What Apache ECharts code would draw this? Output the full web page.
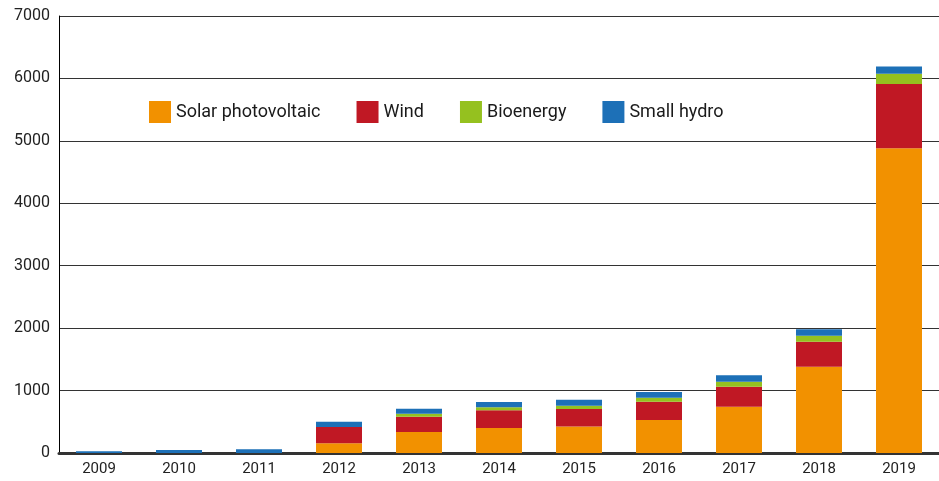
<!DOCTYPE html>
<html>
<head>
<meta charset="utf-8">
<script src="https://cdn.jsdelivr.net/npm/echarts@6/dist/echarts.min.js"></script>
<style>
  html, body { margin: 0; padding: 0; background: #fff; }
  #chart { width: 939px; height: 481px; }
</style>
</head>
<body>
<div id="chart"></div>
<script>
// chart data
const years = ['2009', '2010', '2011', '2012', '2013', '2014', '2015', '2016', '2017', '2018', '2019']
const solar = [0, 0, 0, 155, 335, 400, 425, 530, 742, 1383, 4880]
const wind = [0, 0, 0, 262, 245, 283, 280, 292, 321, 401, 1030]
const bioenergy = [0, 0, 0, 0, 50, 48, 53, 64, 80, 96, 165]
const smallHydro = [30, 50, 60, 83, 80, 86, 96, 92, 101, 101, 117]

const chart = echarts.init(document.getElementById('chart'))

const bar = (name, data, color) => ({
    name: name,
    type: 'bar',
    stack: 'total',
    data: data,
    barWidth: 46,
    itemStyle: { color: color },
    emphasis: { disabled: true }
})

const option = {
    animation: false,
    textStyle: { fontFamily: 'Roboto' },
    legend: {
        left: 144,
        top: 96,
        itemWidth: 22,
        itemHeight: 22,
        itemGap: 36,
        icon: 'rect',
        textStyle: { fontSize: 18, color: '#1a1a1a' },
        data: ['Solar photovoltaic', 'Wind', 'Bioenergy', 'Small hydro']
    },
    grid: {
        left: 59,
        right: 0,
        top: 16,
        bottom: 28
    },
    xAxis: {
        type: 'category',
        data: years,
        axisLine: { lineStyle: { color: '#333', width: 3 } },
        axisTick: { show: false },
        axisLabel: { fontSize: 15, color: '#222', margin: 9 }
    },
    yAxis: {
        type: 'value',
        min: 0,
        max: 7000,
        interval: 1000,
        axisLine: { show: true, lineStyle: { color: '#000', width: 1 } },
        axisTick: { show: false },
        axisLabel: { fontSize: 16, color: '#222', margin: 9, formatter: v => String(v) },
        splitLine: { lineStyle: { color: '#333', width: 1 } }
    },
    series: [
        bar('Solar photovoltaic', solar, '#F29100'),
        bar('Wind', wind, '#C01824'),
        bar('Bioenergy', bioenergy, '#95C11F'),
        bar('Small hydro', smallHydro, '#1D70B7')
    ]
}

chart.setOption(option)
</script>
</body>
</html>
